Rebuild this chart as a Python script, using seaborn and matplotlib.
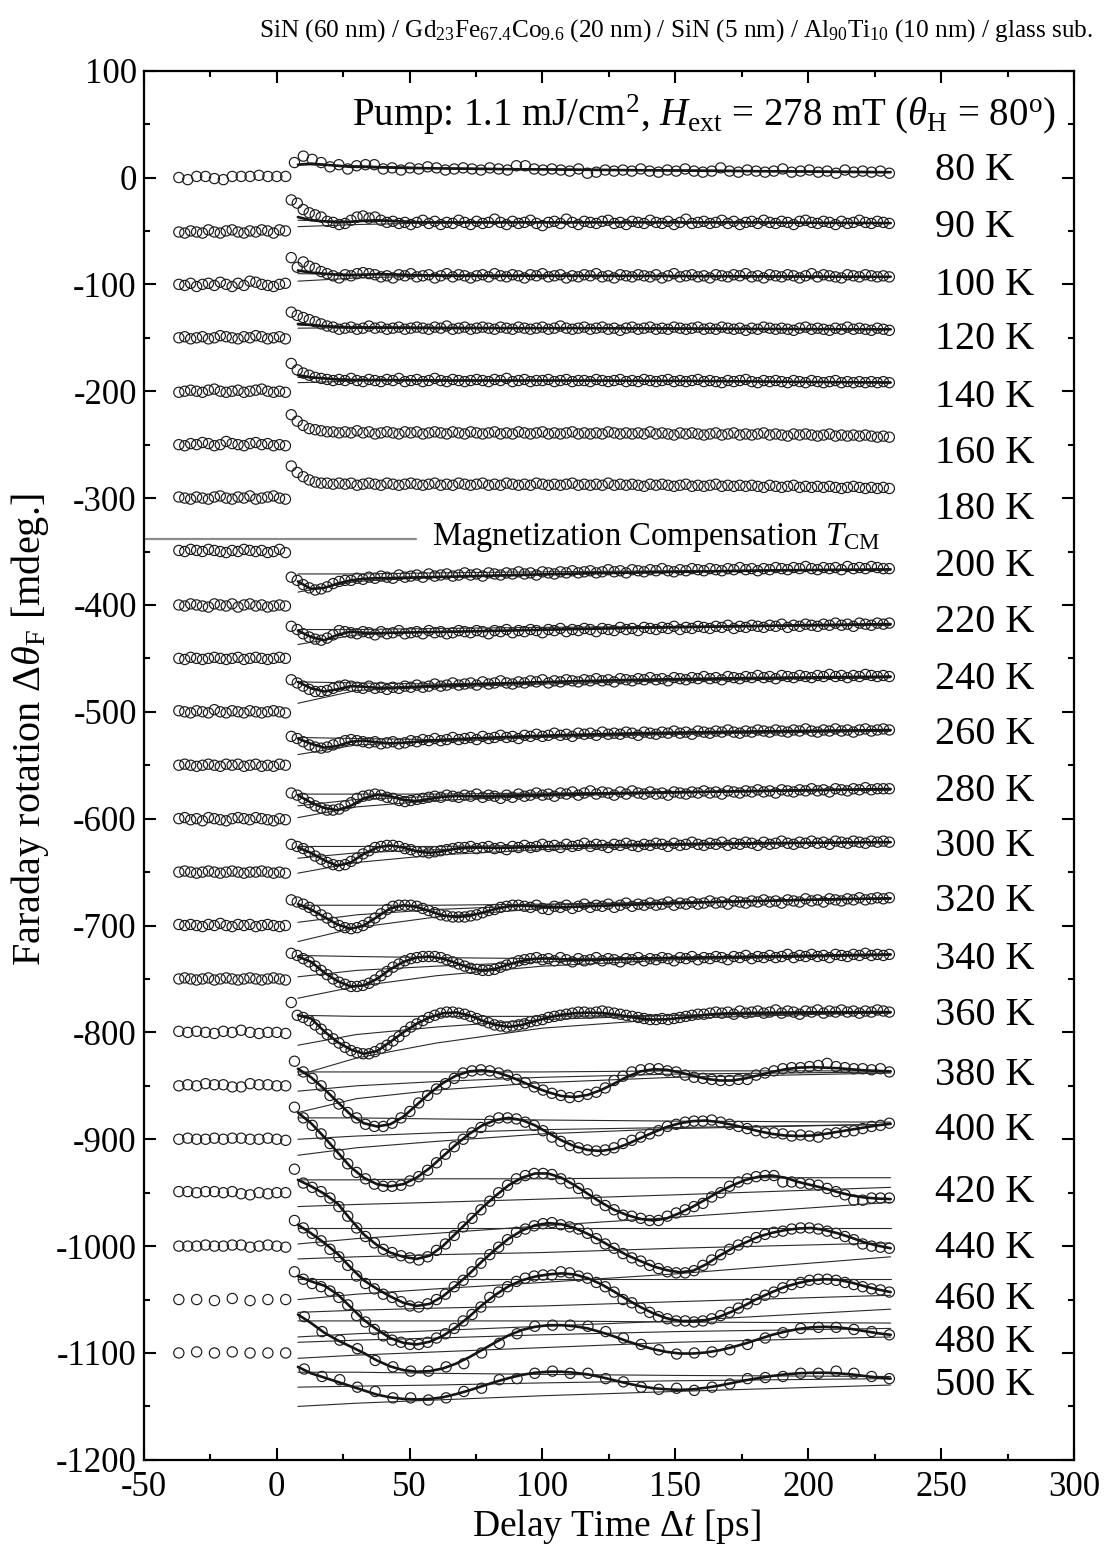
import sys
import numpy as np
import pandas as pd
import matplotlib
matplotlib.use("Agg")
import matplotlib.pyplot as plt
import seaborn as sns
from matplotlib.ticker import MultipleLocator

sns.set_theme(style="ticks", rc={
    "axes.edgecolor": "black", "text.color": "black",
    "xtick.color": "black", "ytick.color": "black", "axes.labelcolor": "black",
})
plt.rcParams["font.family"] = ["Liberation Serif", "DejaVu Serif"]
plt.rcParams["mathtext.fontset"] = "custom"
plt.rcParams["mathtext.rm"] = "Liberation Serif"
plt.rcParams["mathtext.it"] = "Liberation Serif:italic"
plt.rcParams["mathtext.bf"] = "Liberation Serif:bold"
plt.rcParams["axes.unicode_minus"] = False

# ---------------------------------------------------------------- data
temps = [80, 90, 100, 120, 140, 160, 180, 200, 220, 240, 260, 280,
         300, 320, 340, 360, 380, 400, 420, 440, 460, 480, 500]
baselines = [0, -50, -100, -150, -200, -250, -300, -350, -400, -450, -500, -550,
             -600, -650, -700, -750, -800, -850, -900, -950, -1000, -1050, -1100]
label_y = [10, -43, -97, -148, -202, -255, -307, -360, -413, -466, -518, -571,
           -622, -674, -728, -781, -837, -888, -946, -999, -1046, -1087, -1127]

# delay-time grids of the measurements (ps)
t_pre_sparse = np.linspace(-36.8, 3.4, 13)
t_post_sparse = np.linspace(6.7, 230.5, 68)
t_pre_dense = np.linspace(-36.8, 3.3, 19)
t_post_dense = np.linspace(5.5, 230.5, 101)
t_pre_vsparse = np.linspace(-36.8, 3.4, 7)
t_post_vsparse = np.linspace(10.4, 230.5, 34)
t_fit = np.linspace(8, 231, 46)
t_thin = [8, 30, 60, 100, 150, 231]

# signal relative to each curve's pre-zero baseline (mdeg)
pre_080 = [0, -2, 1, 1, -1, -2, 1, 1, 1, 2, 1, 1, 1]
post_080 = [14, 20, 17, 14, 10, 12, 8, 11, 12, 12,
            8, 9, 7, 9, 8, 10, 9, 7, 8, 9,
            8, 7, 9, 8, 7, 11, 11, 8, 7, 8,
            7, 6, 8, 4, 5, 7, 6, 7, 6, 8,
            6, 5, 7, 6, 8, 6, 5, 6, 9, 6,
            5, 7, 6, 5, 6, 8, 5, 6, 7, 5,
            6, 4, 7, 5, 6, 5, 6, 4]

pre_090 = [-1, -2, 0, -1, -2, 1, -1, -2, 0, 1, -1, -2, 0, -1, 1, 0, -2, 1, 0]
post_090 = [29, 26, 20, 17, 15, 13, 9, 8, 6, 7,
            10, 13, 14, 12, 13, 10, 8, 9, 7, 8,
            6, 8, 10, 7, 9, 6, 8, 7, 10, 8,
            6, 9, 7, 8, 11, 8, 6, 9, 7, 8,
            10, 7, 5, 8, 9, 7, 11, 8, 6, 9,
            8, 7, 9, 10, 7, 8, 6, 9, 8, 7,
            10, 8, 7, 9, 6, 8, 11, 7, 8, 9,
            7, 8, 10, 7, 9, 6, 8, 9, 7, 10,
            8, 7, 9, 8, 6, 9, 10, 8, 7, 9,
            8, 6, 9, 7, 8, 10, 8, 7, 9, 8,
            7]

pre_100 = [0, -1, 1, -2, 0, 1, -1, 2, 0, -2, 1, -1, 3, 2, 0, -1, -2, 0, 1]
post_100 = [25, 16, 21, 17, 15, 12, 10, 8, 6, 9,
            8, 10, 11, 10, 9, 7, 8, 6, 9, 8,
            10, 7, 8, 9, 6, 8, 10, 7, 9, 8,
            6, 8, 9, 7, 10, 8, 7, 9, 8, 6,
            9, 8, 10, 7, 8, 9, 6, 8, 7, 9,
            8, 10, 7, 8, 6, 9, 8, 7, 9, 8,
            7, 9, 6, 8, 10, 7, 8, 9, 7, 8,
            6, 9, 8, 7, 9, 8, 10, 7, 8, 6,
            9, 8, 7, 9, 8, 6, 8, 10, 7, 9,
            8, 7, 6, 9, 8, 7, 9, 8, 7, 8,
            7]

pre_120 = [0, 1, -1, 0, 1, -1, 0, 2, 1, 0, -1, 1, 0, 2, 1, -1, 0, 1, -1]
post_120 = [24, 21, 19, 17, 15, 13, 11, 10, 8, 9,
            10, 8, 9, 11, 9, 10, 8, 9, 10, 8,
            9, 10, 9, 8, 10, 9, 11, 8, 9, 10,
            8, 9, 10, 9, 8, 10, 9, 8, 10, 9,
            8, 9, 10, 8, 9, 11, 9, 8, 9, 10,
            8, 9, 10, 8, 9, 7, 9, 10, 8, 9,
            10, 8, 9, 8, 10, 9, 8, 9, 10, 8,
            9, 8, 10, 9, 8, 9, 7, 9, 8, 10,
            9, 8, 9, 8, 7, 9, 10, 8, 9, 8,
            7, 9, 8, 10, 8, 9, 8, 7, 9, 8,
            7]

pre_140 = [-1, 0, 1, 0, -1, 1, 2, 0, -1, 0, 1, -1, 0, 1, 2, 0, -1, 0, -1]
post_140 = [26, 20, 17, 15, 13, 12, 11, 10, 11, 10,
            12, 10, 9, 11, 10, 9, 11, 10, 12, 9,
            10, 11, 9, 10, 12, 10, 9, 11, 10, 9,
            10, 11, 10, 9, 11, 10, 12, 9, 10, 11,
            9, 10, 10, 11, 9, 10, 11, 9, 10, 10,
            9, 11, 10, 9, 10, 11, 9, 10, 9, 11,
            10, 9, 10, 11, 9, 10, 9, 10, 11, 9,
            10, 9, 8, 10, 9, 10, 11, 9, 8, 10,
            9, 10, 9, 8, 10, 9, 8, 10, 9, 8,
            9, 10, 8, 9, 8, 9, 8, 9, 8, 9,
            8]

pre_160 = [0, -1, 1, 0, 2, 1, -1, 0, 3, 1, 0, -1, 1, 2, 0, 1, -1, 0, -1]
post_160 = [28, 22, 18, 15, 14, 13, 12, 12, 11, 12,
            11, 13, 11, 12, 10, 11, 12, 11, 10, 12,
            11, 12, 10, 11, 12, 11, 10, 12, 11, 10,
            12, 11, 10, 11, 12, 10, 11, 10, 12, 11,
            10, 11, 12, 10, 11, 10, 11, 12, 10, 11,
            10, 11, 10, 12, 11, 10, 11, 10, 11, 10,
            12, 10, 11, 10, 9, 11, 10, 11, 10, 9,
            10, 11, 9, 10, 11, 9, 10, 9, 10, 11,
            9, 10, 9, 8, 10, 9, 10, 9, 8, 9,
            10, 8, 9, 8, 9, 8, 9, 8, 7, 8,
            7]

pre_180 = [1, 0, -1, 1, 0, -1, 1, 2, 0, -1, 1, 0, 2, -1, 0, 1, 2, 0, -1]
post_180 = [30, 24, 20, 17, 15, 14, 14, 13, 14, 13,
            14, 12, 13, 14, 13, 12, 14, 13, 12, 13,
            14, 13, 12, 13, 14, 12, 13, 12, 14, 13,
            12, 13, 14, 12, 13, 12, 14, 13, 12, 13,
            12, 14, 13, 12, 13, 12, 13, 14, 12, 13,
            12, 13, 12, 14, 12, 13, 12, 13, 12, 11,
            13, 12, 13, 12, 11, 12, 13, 11, 12, 11,
            12, 13, 11, 12, 11, 12, 11, 12, 11, 10,
            12, 11, 10, 11, 12, 10, 11, 10, 11, 10,
            11, 10, 9, 10, 11, 10, 9, 10, 9, 10,
            9]

pre_200 = [1, 0, 2, 1, 0, 2, 1, 0, -1, 1, 0, 2, 1, 0, 1, -1, 0, 2, -1]
post_200 = [-24, -27, -31, -34, -36, -35, -33, -30, -28, -27,
            -27, -25, -26, -24, -25, -23, -24, -25, -22, -24,
            -23, -22, -24, -21, -23, -22, -21, -23, -22, -20,
            -22, -21, -23, -20, -21, -22, -20, -21, -19, -21,
            -20, -22, -19, -20, -21, -19, -20, -18, -20, -19,
            -18, -20, -19, -17, -19, -18, -20, -17, -18, -19,
            -17, -18, -16, -18, -19, -17, -18, -16, -17, -18,
            -16, -17, -18, -16, -17, -15, -17, -16, -18, -16,
            -17, -15, -16, -17, -15, -16, -14, -16, -17, -15,
            -16, -15, -17, -14, -16, -15, -16, -14, -15, -16,
            -16]

pre_220 = [0, -1, 1, 0, -1, -2, 1, 0, -1, 1, -2, 0, 1, -1, 0, -2, -1, 0, -1]
post_220 = [-20, -23, -27, -30, -32, -33, -31, -28, -24, -25,
            -26, -27, -25, -26, -28, -25, -27, -26, -24, -27,
            -26, -25, -27, -24, -26, -25, -27, -26, -24, -25,
            -26, -24, -25, -27, -24, -25, -23, -26, -24, -25,
            -23, -24, -26, -23, -24, -22, -25, -23, -24, -22,
            -23, -25, -22, -23, -24, -21, -23, -22, -24, -21,
            -22, -23, -21, -22, -20, -23, -21, -22, -20, -21,
            -22, -20, -21, -19, -22, -20, -21, -19, -20, -21,
            -19, -20, -18, -21, -19, -20, -18, -19, -20, -18,
            -19, -17, -19, -18, -20, -17, -18, -19, -17, -18,
            -17]

pre_240 = [0, -1, 1, 0, -1, 0, 1, 0, -1, 0, 1, -1, 0, 1, 0, -1, 0, 1, 0]
post_240 = [-20, -23, -26, -29, -31, -31, -30, -28, -26, -25,
            -26, -27, -28, -26, -28, -27, -29, -27, -28, -26,
            -27, -25, -27, -26, -24, -26, -25, -23, -25, -24,
            -23, -25, -22, -24, -23, -21, -23, -24, -22, -23,
            -21, -22, -20, -23, -21, -22, -20, -21, -22, -20,
            -21, -19, -21, -20, -22, -19, -20, -21, -19, -20,
            -18, -20, -19, -21, -18, -19, -20, -18, -19, -17,
            -19, -18, -20, -17, -18, -19, -17, -18, -16, -18,
            -17, -19, -16, -17, -18, -16, -17, -18, -16, -17,
            -15, -17, -16, -18, -16, -17, -15, -16, -17, -16,
            -17]

pre_260 = [1, 0, -1, 1, 0, -1, 2, 0, -1, 1, 0, -1, 1, 0, -1, 0, 1, 0, -1]
post_260 = [-23, -25, -28, -31, -33, -34, -33, -31, -29, -27,
            -26, -27, -28, -29, -28, -30, -29, -28, -30, -29,
            -27, -28, -26, -27, -25, -27, -26, -24, -26, -25,
            -24, -26, -23, -25, -24, -22, -24, -23, -25, -22,
            -23, -21, -23, -22, -20, -22, -21, -23, -20, -21,
            -20, -22, -19, -21, -20, -21, -19, -20, -22, -19,
            -20, -21, -19, -20, -18, -20, -19, -21, -18, -19,
            -20, -18, -19, -17, -19, -20, -18, -19, -17, -18,
            -19, -17, -18, -19, -17, -18, -16, -18, -19, -17,
            -18, -16, -18, -17, -19, -17, -16, -18, -17, -16,
            -17]

pre_280 = [0, 1, 0, -1, 0, 1, 0, -1, 1, 0, 1, -1, 0, 1, -1, 0, -1, 1, 0]
post_280 = [-26, -28, -31, -35, -38, -40, -42, -42, -41, -38,
            -35, -31, -29, -28, -27, -28, -30, -31, -33, -34,
            -33, -32, -31, -30, -29, -30, -28, -29, -30, -28,
            -29, -27, -30, -28, -29, -31, -28, -30, -27, -29,
            -28, -26, -28, -27, -29, -26, -27, -25, -28, -26,
            -24, -27, -25, -26, -28, -25, -27, -24, -26, -27,
            -25, -27, -26, -28, -25, -26, -27, -25, -26, -24,
            -26, -25, -27, -24, -25, -26, -24, -25, -23, -25,
            -24, -26, -23, -24, -25, -23, -24, -22, -24, -23,
            -25, -22, -23, -24, -22, -23, -21, -23, -22, -22,
            -22]

pre_300 = [0, 1, -1, 0, -2, 1, 0, -1, -2, 0, 1, 0, -1, 1, 0, -1, -2, 0, -1]
post_300 = [-24, -26, -28, -31, -35, -38, -41, -43, -44, -43,
            -40, -37, -33, -30, -27, -26, -25, -25, -26, -28,
            -29, -31, -31, -32, -31, -30, -29, -28, -27, -27,
            -26, -28, -27, -26, -28, -27, -29, -26, -27, -25,
            -27, -26, -24, -26, -25, -27, -24, -26, -25, -23,
            -26, -24, -25, -27, -24, -25, -23, -25, -26, -24,
            -25, -23, -24, -26, -23, -25, -24, -22, -24, -25,
            -23, -24, -22, -25, -23, -24, -22, -23, -25, -22,
            -24, -23, -21, -23, -24, -22, -23, -21, -23, -22,
            -24, -21, -22, -23, -21, -22, -23, -21, -22, -21,
            -22]

pre_320 = [0, 1, 0, -1, 0, 1, 0, -1, 0, 1, 0, -1, 0, 0, 1, 0, -1, 0, -1]
post_320 = [-26, -28, -30, -33, -36, -40, -43, -47, -50, -52,
            -53, -52, -50, -47, -43, -39, -35, -32, -31, -31,
            -31, -32, -34, -36, -38, -40, -41, -42, -42, -42,
            -41, -40, -38, -36, -35, -33, -32, -31, -31, -32,
            -33, -31, -34, -35, -32, -33, -31, -34, -32, -30,
            -33, -31, -32, -30, -33, -31, -29, -32, -30, -31,
            -29, -31, -30, -28, -31, -29, -30, -28, -30, -29,
            -27, -29, -28, -30, -27, -28, -29, -27, -28, -26,
            -28, -27, -29, -26, -27, -28, -25, -27, -26, -28,
            -25, -26, -27, -25, -26, -24, -26, -25, -24, -25,
            -24]

pre_340 = [1, 0, 1, 0, -1, 1, 0, 2, 0, -1, 1, 0, 1, -1, 0, 1, 0, -1, 0]
post_340 = [-26, -28, -31, -34, -38, -42, -46, -50, -53, -55,
            -57, -57, -56, -54, -51, -47, -43, -39, -36, -33,
            -31, -30, -29, -29, -29, -30, -32, -34, -36, -38,
            -40, -41, -42, -42, -41, -39, -37, -35, -33, -32,
            -31, -30, -32, -31, -33, -30, -32, -34, -31, -33,
            -32, -30, -33, -31, -32, -34, -31, -32, -30, -33,
            -31, -32, -30, -31, -33, -30, -31, -29, -32, -30,
            -31, -29, -30, -32, -29, -30, -28, -31, -29, -30,
            -28, -30, -29, -27, -30, -28, -29, -27, -29, -28,
            -30, -27, -28, -29, -27, -28, -26, -28, -27, -28,
            -27]

pre_360 = [0, 1, 0, -1, 0, 1, -1, 0, 1, 0, -1, 0, 1, 0, -1, 0, 1, 0, -1]
post_360 = [-22, -34, -36, -39, -43, -47, -52, -56, -60, -64,
            -67, -69, -70, -70, -68, -65, -62, -58, -54, -49,
            -45, -42, -39, -36, -34, -32, -31, -31, -32, -33,
            -35, -37, -39, -41, -43, -44, -45, -44, -43, -42,
            -40, -39, -38, -36, -35, -34, -33, -32, -31, -31,
            -32, -31, -30, -31, -32, -33, -34, -35, -36, -37,
            -38, -38, -37, -38, -37, -36, -35, -34, -33, -33,
            -32, -31, -32, -31, -33, -30, -32, -31, -30, -32,
            -31, -29, -32, -30, -31, -33, -30, -31, -29, -32,
            -30, -31, -29, -31, -30, -32, -30, -31, -29, -30,
            -31]

pre_380 = [1, 0, 1, 0, -1, 1, 0, 2, 0, -1, 0, 0, -1]
post_380 = [-27, -37, -43, -50, -59, -67, -75, -80, -86, -88,
            -88, -85, -80, -74, -66, -59, -53, -48, -43, -38,
            -36, -35, -36, -38, -40, -44, -47, -51, -54, -57,
            -59, -61, -60, -58, -56, -52, -45, -41, -37, -35,
            -34, -34, -36, -37, -40, -42, -43, -44, -45, -45,
            -44, -44, -40, -38, -36, -34, -33, -33, -32, -31,
            -29, -32, -33, -34, -34, -35, -34, -37]

pre_400 = [0, 1, 0, 2, 1, 1, -1, -1, 2, 1, 1, 0, 0]
post_400 = [-20, -30, -37, -45, -54, -64, -73, -81, -87, -92,
            -94, -94, -93, -89, -85, -79, -72, -64, -57, -50,
            -44, -39, -33, -30, -30, -31, -34, -37, -42, -48,
            -52, -56, -58, -60, -61, -60, -58, -54, -51, -48,
            -45, -42, -38, -36, -34, -33, -33, -32, -34, -36,
            -38, -40, -42, -44, -44, -45, -47, -46, -47, -48,
            -45, -44, -43, -42, -40, -38, -37, -35]

pre_420 = [0, 1, 0, 0, 1, 0, 1, 1, 0, 0, 1, 0, -1]
post_420 = [-28, -41, -45, -49, -55, -63, -72, -83, -91, -97,
            -103, -106, -109, -111, -113, -110, -104, -98, -90, -82,
            -74, -66, -58, -50, -43, -37, -34, -32, -32, -33,
            -37, -41, -46, -51, -57, -62, -66, -71, -72, -74,
            -76, -76, -72, -69, -66, -63, -60, -54, -50, -44,
            -40, -37, -35, -34, -34, -40, -40, -41, -42, -43,
            -46, -49, -52, -57, -57, -55, -55, -55]

pre_440 = [1, 1, 0, 1, 1, 0, 1, -1, -2, 0, -1, 0, 0]
post_440 = [-26, -33, -38, -45, -53, -60, -68, -78, -85, -90,
            -95, -98, -102, -106, -107, -104, -100, -95, -88, -82,
            -74, -66, -58, -51, -44, -37, -34, -31, -29, -28,
            -30, -32, -34, -38, -43, -48, -52, -57, -61, -64,
            -68, -71, -74, -75, -75, -73, -68, -63, -58, -53,
            -49, -46, -42, -39, -37, -36, -34, -33, -33, -34,
            -36, -38, -41, -44, -48, -50, -51, -52]

pre_460 = [0, 0, 0, 1, 0, 0, 1, 1, -1, 0, 1, 0, -1]
post_460 = [-24, -31, -35, -38, -42, -48, -55, -65, -71, -78,
            -84, -88, -90, -92, -92, -90, -86, -82, -77, -70,
            -64, -57, -48, -43, -38, -33, -30, -28, -27, -27,
            -24, -25, -28, -30, -34, -38, -43, -50, -53, -58,
            -62, -66, -68, -70, -70, -71, -70, -68, -65, -62,
            -58, -54, -50, -46, -43, -39, -36, -34, -32, -31,
            -31, -32, -34, -36, -38, -40, -41, -43]

pre_480 = [0, 0, -1, 1, -1, 0, 0]
post_480 = [-16, -30, -38, -46, -57, -63, -67, -67, -63, -60,
            -50, -41, -32, -25, -24, -24, -25, -30, -36, -42,
            -47, -51, -50, -49, -47, -42, -36, -31, -27, -26,
            -26, -28, -30, -33]

pre_500 = [0, 1, 0, 1, 0, 0, 0]
post_500 = [-15, -22, -25, -32, -36, -42, -42, -44, -42, -36,
            -33, -25, -24, -19, -17, -19, -19, -24, -27, -32,
            -34, -33, -35, -32, -29, -24, -23, -22, -19, -19,
            -17, -19, -22, -24]

# fitted curves (thick lines), relative to baseline, on t_fit
fit_080 = [12, 13, 12, 11, 10, 10, 9.5, 9.3, 9, 8.8, 8.6, 8.5, 8.3, 8.2, 8, 7.9, 7.8, 7.7, 7.6, 7.5,
           7.4, 7.3, 7.2, 7.1, 7, 6.9, 6.8, 6.7, 6.6, 6.5, 6.4, 6.3, 6.2, 6.1, 6, 5.9, 5.8, 5.7, 5.6, 5.5,
           5.4, 5.3, 5.2, 5.1, 5, 5]
fit_090 = [13, 10, 9, 8, 8.5, 9.5, 10, 9.5, 8.8, 8.3, 8, 8, 8, 8, 8, 8, 8, 8, 8, 8,
           8, 8, 8, 8, 8, 8, 8, 8, 8, 8, 8, 8, 8, 8, 8, 8, 7.9, 7.8, 7.8, 7.7,
           7.6, 7.6, 7.5, 7.5, 7.4, 7.4]
fit_100 = [13, 11, 10, 9, 8.5, 9, 9.5, 9.3, 9, 8.6, 8.3, 8.1, 8, 8, 8, 8, 8, 8, 8, 8,
           8, 8, 8, 8, 8, 8, 7.9, 7.9, 7.8, 7.8, 7.7, 7.7, 7.6, 7.6, 7.5, 7.5, 7.4, 7.4, 7.3, 7.3,
           7.3, 7.2, 7.2, 7.2, 7.1, 7.1]
fit_120 = [13, 12, 11, 10, 9.5, 9.5, 9.5, 9.4, 9.3, 9.2, 9.1, 9, 9, 9, 9, 9, 9, 9, 9, 9,
           9, 9, 9, 8.9, 8.9, 8.8, 8.8, 8.7, 8.7, 8.6, 8.6, 8.5, 8.5, 8.4, 8.4, 8.3, 8.3, 8.2, 8.2, 8.1,
           8.1, 8, 8, 8, 7.9, 7.9]
fit_140 = [15, 13, 12, 11, 10.5, 10.5, 10.5, 10.4, 10.3, 10.2, 10.1, 10, 10, 10, 10, 10, 10, 10, 10, 10,
           10, 10, 10, 9.9, 9.9, 9.8, 9.8, 9.7, 9.7, 9.6, 9.6, 9.5, 9.4, 9.3, 9.2, 9.1, 9, 8.9, 8.8, 8.7,
           8.6, 8.5, 8.4, 8.3, 8.2, 8.1]
fit_200 = [-28, -35, -34, -30, -27, -25.5, -25, -24.8, -24.5, -24.2, -24, -23.7, -23.4, -23.1, -22.8,
           -22.5, -22.2, -21.9, -21.6, -21.3, -21, -20.7, -20.4, -20.2, -20, -19.8, -19.6, -19.4, -19.2,
           -19, -18.8, -18.6, -18.4, -18.2, -18, -17.8, -17.6, -17.5, -17.4, -17.3, -17.2, -17.1, -17,
           -16.9, -16.8, -16.7]
fit_220 = [-24, -30, -33, -28, -25, -26, -26.5, -26, -25.8, -25.6, -25.4, -25.2, -25, -24.8, -24.5,
           -24.2, -24, -23.7, -23.4, -23.1, -22.9, -22.6, -22.4, -22.1, -21.9, -21.6, -21.4, -21.2, -21,
           -20.8, -20.6, -20.4, -20.2, -20, -19.8, -19.6, -19.4, -19.2, -19, -18.8, -18.7, -18.5, -18.3,
           -18.2, -18, -17.9]
fit_240 = [-22, -28, -31, -29, -26, -26.5, -27.5, -27.5, -27, -26.5, -26, -25.5, -25, -24.5, -24,
           -23.6, -23.2, -22.8, -22.4, -22, -21.7, -21.4, -21.1, -20.8, -20.5, -20.2, -20, -19.8, -19.6,
           -19.4, -19.2, -19, -18.8, -18.6, -18.4, -18.3, -18.2, -18, -17.9, -17.8, -17.6, -17.5, -17.4,
           -17.3, -17.2, -17]
fit_260 = [-25, -30, -33.5, -32, -28, -27, -28.5, -29.5, -29, -28, -27, -26.2, -25.6, -25, -24.5,
           -24, -23.5, -23, -22.6, -22.2, -21.8, -21.5, -21.2, -20.9, -20.6, -20.3, -20, -19.8, -19.6,
           -19.4, -19.2, -19, -18.8, -18.6, -18.5, -18.3, -18.2, -18, -17.9, -17.8, -17.6, -17.5, -17.4,
           -17.3, -17.2, -17]
fit_280 = [-28, -35, -40, -42, -38, -31, -27.5, -29, -32.5, -33.5, -31.5, -29.5, -28.8, -29, -29.3,
           -29.2, -28.8, -28.4, -28, -27.6, -27.3, -27, -26.7, -26.4, -26.2, -26, -25.8, -25.6, -25.4,
           -25.2, -25, -24.8, -24.6, -24.4, -24.2, -24, -23.8, -23.6, -23.4, -23.2, -23, -22.8, -22.7,
           -22.5, -22.4, -22.2]
fit_300 = [-27, -32, -39, -44, -41, -33, -27, -25, -27, -30.5, -32, -30.5, -28, -26.8, -27, -27.4,
           -27.2, -26.8, -26.4, -26, -25.7, -25.4, -25.2, -25, -24.8, -24.6, -24.4, -24.2, -24, -23.8,
           -23.6, -23.4, -23.3, -23.2, -23, -22.9, -22.8, -22.7, -22.6, -22.5, -22.4, -22.3, -22.2, -22.1,
           -22, -22]
fit_320 = [-30, -35, -42, -49, -53, -50, -42, -34, -31, -32.5, -36.5, -40.5, -42, -41, -38, -34.5,
           -32, -31.3, -32, -32.8, -33, -32.5, -32, -31.5, -31, -30.6, -30.2, -29.8, -29.4, -29, -28.6,
           -28.2, -27.9, -27.6, -27.3, -27, -26.7, -26.4, -26.1, -25.8, -25.5, -25.3, -25.1, -24.9, -24.7,
           -24.5]
fit_340 = [-29, -34, -44, -52, -57, -56, -50, -41, -34, -30, -29, -31, -35, -39.5, -42, -40.5, -36.5,
           -33, -31, -30.8, -31.5, -32.2, -32.2, -31.8, -31.3, -31, -30.8, -30.6, -30.4, -30.2, -30,
           -29.8, -29.6, -29.4, -29.2, -29, -28.8, -28.6, -28.4, -28.2, -28, -27.8, -27.6, -27.4, -27.2,
           -27]
fit_360 = [-34, -37, -49, -59, -66, -70, -67.5, -59, -50, -42, -36, -32, -31.3, -34, -39, -43, -44.8,
           -43, -39.5, -36, -33.5, -32, -31.5, -31.8, -33, -35, -37, -38, -37.8, -36.5, -35, -33.5, -32.5,
           -32, -31.8, -31.6, -31.5, -31.4, -31.3, -31.2, -31.2, -31.1, -31.1, -31, -31, -31]
fit_380 = [-34, -42, -53, -65, -77, -85, -88, -86, -79, -68, -57, -47.5, -40.5, -36.5, -35.5, -37,
           -41, -46, -51.5, -56, -59.5, -60.5, -58.5, -54, -48, -41.5, -36.5, -34.5, -35, -37.5, -40.5,
           -43.5, -45, -45, -43, -40, -37, -34.5, -33, -32.5, -33, -33.5, -34.5, -35.5, -36, -36.5]
fit_400 = [-25, -35, -48, -62, -76, -86, -92, -94, -92, -86, -77, -66, -55, -45, -37, -32, -30, -32,
           -37, -44, -51, -56.5, -60, -61, -59, -54.5, -49, -43.5, -38.5, -35, -33, -32.5, -34, -36.5,
           -39.5, -42.5, -45, -46.5, -47, -46.5, -45, -43, -41, -39, -37, -35.5]
fit_420 = [-38, -44, -51, -60, -75, -89, -99, -106, -110, -112, -109, -100, -88, -76, -64, -53, -43,
           -36, -32, -32, -36, -43, -51, -59, -66, -71, -74.5, -76, -74, -69, -63, -56, -49, -43, -38,
           -35, -34, -36, -40, -43, -46, -49.5, -52.5, -54.5, -55.5, -56]
fit_440 = [-30, -38, -47, -57, -70, -82, -90, -97, -103, -106, -104, -97, -87, -76, -64, -53, -43,
           -35.5, -30.5, -28.5, -29.5, -33, -38.5, -45, -52, -58.5, -64, -69, -72.5, -74.5, -73, -67,
           -59, -52, -46.5, -41, -37.5, -35, -33.5, -33, -35, -38, -42, -46.5, -49.5, -52]
fit_460 = [-28, -33, -37, -45, -57, -69, -78, -86, -90.5, -92, -89.5, -84, -76, -66, -55, -45.5,
           -37.5, -32, -28.5, -26.5, -25.5, -26.5, -30, -35.5, -42.5, -50, -57, -63, -67.5, -70, -70.5,
           -69.5, -66, -61, -55, -48.5, -43, -38, -34.5, -32, -31, -31.5, -34, -37.5, -40.5, -43]
fit_480 = [-14, -22, -31, -38, -44, -50, -57, -62.5, -66, -67.5, -67, -64.5, -60, -54, -47, -40,
           -33.5, -28.5, -25.5, -24, -24, -25, -27, -30.5, -34.5, -39, -43, -46.5, -49, -50.5, -50.5,
           -49.5, -47.5, -44.5, -41, -37, -33, -30, -27.5, -26, -25.5, -26, -27.5, -29.5, -31.5, -33]
fit_500 = [-13, -19, -23, -27, -31, -35, -39, -41.5, -43, -43.5, -43, -41.5, -38.5, -35, -31, -27,
           -23.5, -20.5, -18.5, -17.5, -17.5, -18.5, -20, -22.5, -25.5, -28.5, -31, -33, -34, -34.5,
           -34, -32.5, -30.5, -28, -25.5, -23.5, -21.5, -20, -19, -18.5, -18.5, -19, -20, -21.5, -23,
           -24]

# thin fit components, relative to baseline, on t_thin
thin_080 = [[12, 11, 9, 8, 7, 5.5]]
thin_090 = [[10, 9, 8.5, 8, 8, 7.5], [4, 6, 7.5, 8, 8, 7.5]]
thin_100 = [[10, 9.5, 9, 8.5, 8, 7], [3, 6, 8, 8.5, 8, 7]]
thin_120 = [[12, 10.5, 10, 9.5, 9, 8], [9, 9.5, 9.5, 9.5, 9, 8]]
thin_140 = [[13, 11, 10.5, 10, 9.5, 8.5], [8, 9.5, 10, 10, 9.5, 8.5]]
thin_200 = [[-21, -21, -20, -19, -18, -17], [-38, -28, -24, -21, -19, -17]]
thin_220 = [[-23, -23, -22, -21, -20, -19], [-37, -28, -25, -23, -21, -19]]
thin_240 = [[-22, -23, -24, -22, -20, -18], [-42, -30, -27, -24, -21, -18]]
thin_260 = [[-24, -25, -26, -23, -21, -18], [-40, -31, -28, -24, -21, -18]]
thin_280 = [[-27, -27, -27, -26, -25, -23], [-38, -32, -29, -27, -25, -23], [-49, -39, -33, -29, -26, -23]]
thin_300 = [[-26, -26, -26, -25, -24, -22], [-37, -32, -29, -26, -24, -22], [-51, -41, -34, -29, -25, -22]]
thin_320 = [[-31, -31, -31, -30, -28, -25], [-47, -40, -35, -31, -28, -25], [-65, -52, -42, -34, -29, -25]]
thin_340 = [[-28, -29, -30, -31, -30, -27], [-48, -42, -38, -34, -31, -27], [-68, -57, -47, -38, -32, -28]]
thin_360 = [[-34, -35, -35, -35, -34, -32], [-62, -52, -45, -38, -34, -31], [-90, -74, -60, -46, -37, -31]]
thin_380 = [[-37, -37, -37, -37, -36, -36], [-55, -50, -46, -42, -39, -37], [-75, -62, -54, -47, -42, -38]]
thin_400 = [[-30, -30, -31, -32, -33, -34], [-50, -47, -44, -41, -39, -36], [-65, -58, -52, -45, -40, -36]]
thin_420 = [[-38, -38, -37, -37, -36, -36], [-63, -61, -59, -56, -52, -45], [-98, -93, -88, -81, -73, -59]]
thin_440 = [[-33, -33, -33, -33, -33, -33], [-62, -60, -58, -56, -52, -47], [-100, -95, -90, -84, -76, -60]]
thin_460 = [[-31, -31, -31, -31, -31, -31], [-62, -60, -58, -56, -52, -46], [-85, -82, -79, -75, -70, -59]]
thin_480 = [[-20, -20, -20, -20, -21, -22], [-40, -38, -36, -33, -30, -27], [-55, -52, -49, -45, -40, -35]]
thin_500 = [[-18, -18, -19, -20, -21, -22], [-32, -31, -30, -28, -26, -24], [-50, -47, -44, -40, -36, -30]]

# ---------------------------------------------------------------- assemble tables
pre_series = [pre_080, pre_090, pre_100, pre_120, pre_140, pre_160, pre_180, pre_200,
              pre_220, pre_240, pre_260, pre_280, pre_300, pre_320, pre_340, pre_360,
              pre_380, pre_400, pre_420, pre_440, pre_460, pre_480, pre_500]
post_series = [post_080, post_090, post_100, post_120, post_140, post_160, post_180, post_200,
               post_220, post_240, post_260, post_280, post_300, post_320, post_340, post_360,
               post_380, post_400, post_420, post_440, post_460, post_480, post_500]
fit_series = {80: fit_080, 90: fit_090, 100: fit_100, 120: fit_120, 140: fit_140,
              200: fit_200, 220: fit_220, 240: fit_240, 260: fit_260, 280: fit_280,
              300: fit_300, 320: fit_320, 340: fit_340, 360: fit_360, 380: fit_380,
              400: fit_400, 420: fit_420, 440: fit_440, 460: fit_460, 480: fit_480, 500: fit_500}
thin_series = {80: thin_080, 90: thin_090, 100: thin_100, 120: thin_120, 140: thin_140,
               200: thin_200, 220: thin_220, 240: thin_240, 260: thin_260, 280: thin_280,
               300: thin_300, 320: thin_320, 340: thin_340, 360: thin_360, 380: thin_380,
               400: thin_400, 420: thin_420, 440: thin_440, 460: thin_460, 480: thin_480,
               500: thin_500}


def grids_for(T):
    if T == 80 or 380 <= T <= 460:
        return t_pre_sparse, t_post_sparse
    if T >= 480:
        return t_pre_vsparse, t_post_vsparse
    return t_pre_dense, t_post_dense


def pairs(t, vals, name):
    if len(t) != len(vals):
        print("length mismatch", name, len(t), len(vals), file=sys.stderr)
    n = min(len(t), len(vals))
    return list(t[:n]), list(vals[:n])


pts, fits, thins = [], [], []
for T, B, pre, post in zip(temps, baselines, pre_series, post_series):
    tp, tq = grids_for(T)
    for t, d in zip(*pairs(tp, pre, f"pre{T}")):
        pts.append((t, B + d, T))
    for t, d in zip(*pairs(tq, post, f"post{T}")):
        pts.append((t, B + d, T))
    if T in fit_series:
        for t, d in zip(*pairs(t_fit, fit_series[T], f"fit{T}")):
            fits.append((t, B + d, T))
        for j, line in enumerate(thin_series[T]):
            for t, d in zip(t_thin, line):
                thins.append((t, B + d, f"{T}_{j}"))

pts_df = pd.DataFrame(pts, columns=["t", "v", "T"])
fit_df = pd.DataFrame(fits, columns=["t", "v", "unit"])
thin_df = pd.DataFrame(thins, columns=["t", "v", "unit"])

# ---------------------------------------------------------------- figure
fig = plt.figure(figsize=(11.04, 15.63), dpi=100)
ax = fig.add_axes([0.1302, 0.0660, 0.8427, 0.8888])

sns.lineplot(data=thin_df, x="t", y="v", units="unit", estimator=None, sort=False,
             color="#2a2a2a", lw=0.8, ax=ax, legend=False)
sns.lineplot(data=fit_df, x="t", y="v", units="unit", estimator=None, sort=False,
             color="#151515", lw=1.9, ax=ax, legend=False)
sns.scatterplot(data=pts_df, x="t", y="v", marker="o", s=54, facecolor="none",
                edgecolor="#1a1a1a", linewidth=0.85, ax=ax, legend=False)

ax.set_xlim(-50, 300)
ax.set_ylim(-1200, 100)
ax.xaxis.set_major_locator(MultipleLocator(50))
ax.xaxis.set_minor_locator(MultipleLocator(25))
ax.yaxis.set_major_locator(MultipleLocator(100))
ax.yaxis.set_minor_locator(MultipleLocator(50))
ax.tick_params(which="both", direction="in", top=True, right=True, width=1.5, color="black")
ax.tick_params(which="major", length=8.5, labelsize=25)
ax.tick_params(axis="x", which="major", pad=8)
ax.tick_params(axis="y", which="major", pad=5)
ax.tick_params(which="minor", length=4.5)
for s in ax.spines.values():
    s.set_linewidth(1.6)
    s.set_color("black")
ax.set_xlabel("")
ax.set_ylabel("")

# temperature labels (baseline placed so that glyph centres sit at label_y)
for T, ly in zip(temps, label_y):
    ax.text(247.5, ly - 12.5, f"{T} K", fontsize=29, ha="left", va="baseline")

ax.text(293, 48, r"Pump: 1.1 mJ/cm$^{2}$, $H_{\rm ext}$ = 278 mT ($\theta_{\rm H}$ = 80$^{\rm o}$)",
        fontsize=28, ha="right", va="baseline")

# magnetization compensation marker
ax.plot([-50, 52.5], [-338, -338], color="#8c8c8c", lw=1.6)
ax.text(58.5, -344, r"Magnetization Compensation $T_{\rm CM}$", fontsize=23.5,
        ha="left", va="baseline")

fig.text(1093 / 1104, 1 - 37 / 1563,
         r"SiN (60 nm) / Gd$_{23}$Fe$_{67.4}$Co$_{9.6}$ (20 nm) / SiN (5 nm) / "
         r"Al$_{90}$Ti$_{10}$ (10 nm) / glass sub.",
         fontsize=18.2, ha="right", va="baseline")

fig.text(30 / 1104, 1 - 730 / 1563, r"Faraday rotation $\Delta\theta_{\rm F}$ [mdeg.]",
         fontsize=29, rotation=90, ha="center", va="center")
fig.text(616 / 1104, 1 - 1527 / 1563, r"Delay Time $\Delta t$ [ps]",
         fontsize=27, ha="center", va="center")

fig.savefig("out.png", dpi=100)
